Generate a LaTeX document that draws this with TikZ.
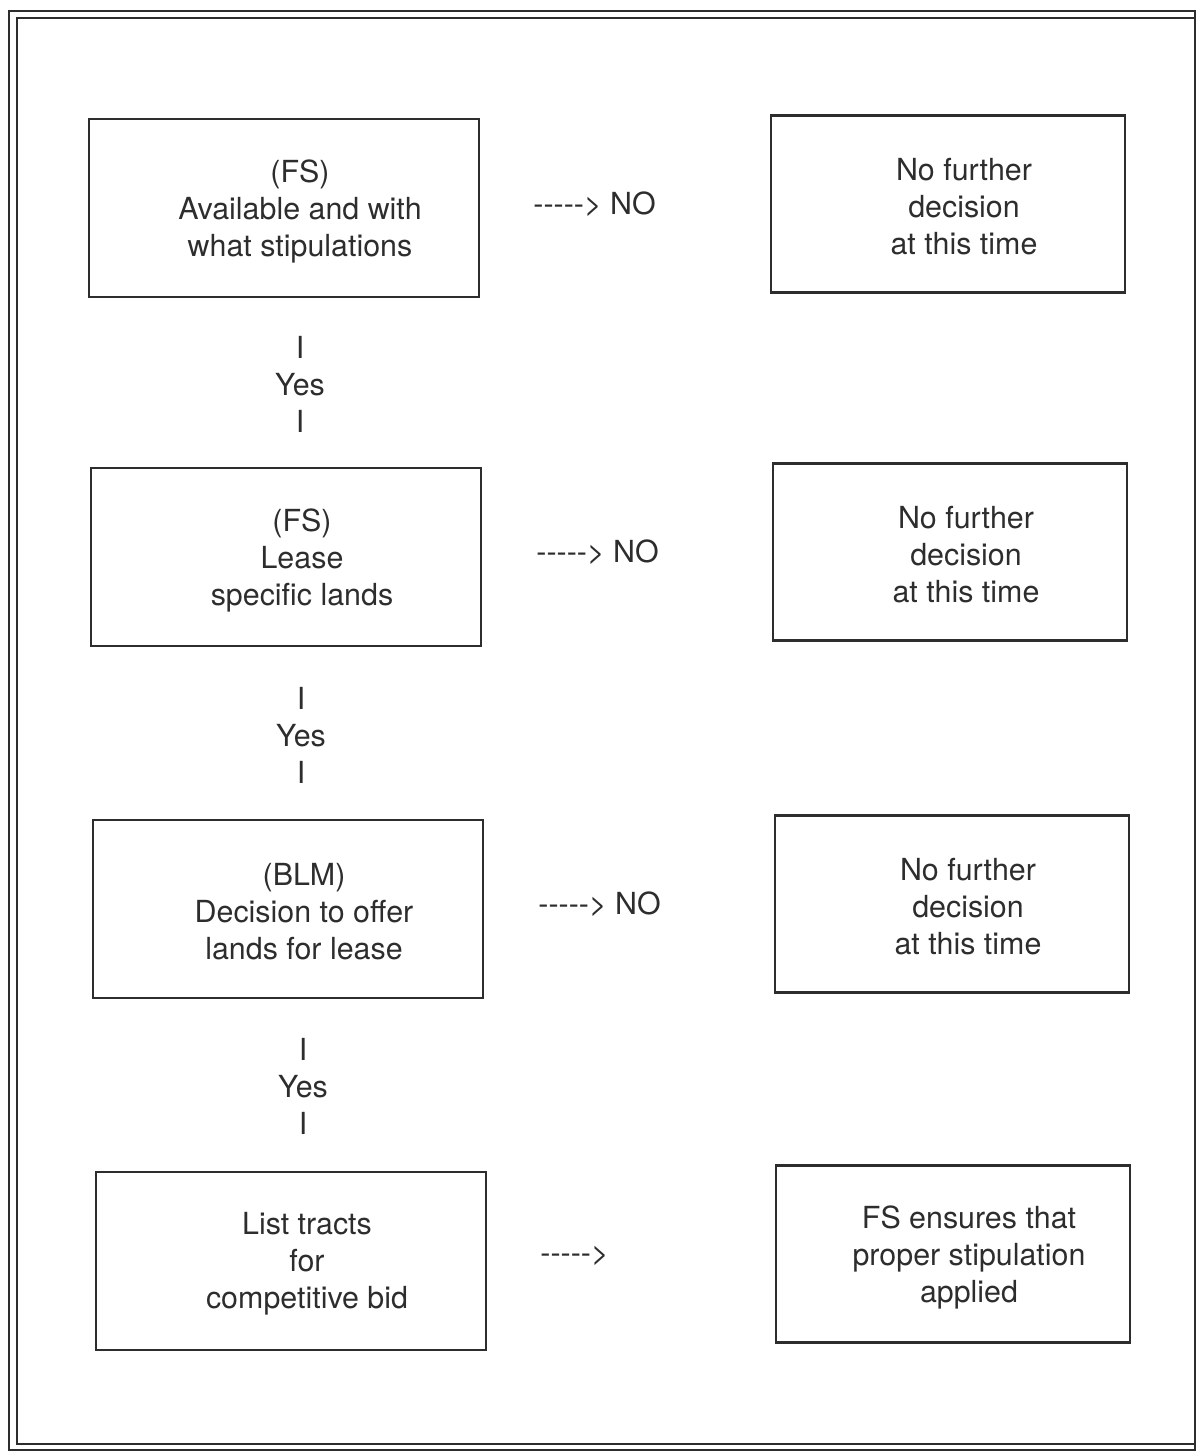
\documentclass[tikz,border=0pt]{standalone}
\usepackage{fontspec}
\setmainfont{TeX Gyre Heros}
\usepackage{xcolor}
\usepackage{tikz}
\usetikzlibrary{positioning,calc}
\definecolor{ScanGray}{RGB}{45,45,45}
\tikzset{
    stepbox/.style={rectangle, draw=ScanGray, line width=1.1pt, minimum width=195pt, minimum height=89pt, inner sep=0pt},
    endbox/.style={rectangle, draw=ScanGray, line width=1.1pt, minimum width=177pt, minimum height=88.5pt, inner sep=0pt},
    boxtext/.style={align=center, text=ScanGray, inner sep=0pt, font=\fontsize{15.2}{18.5}\selectfont},
    flowtext/.style={boxtext, anchor=west}
}

\begin{document}
\begin{tikzpicture}[x=0.5pt, y=-0.5pt,
                % Khung ngoai: vien doi
                frameline/.style={draw=ScanGray, line width=0.8pt}
            ]
                \useasboundingbox (0,0) rectangle (1198,1452);
                \draw[frameline] (9,11) rectangle (1195,1450);
                \draw[frameline] (1195,18) -- (17,18) -- (17,1444) -- (1195,1444);

                % Cot trai: cac buoc quyet dinh
                \node[stepbox] (avail) at (284,208) {};
                \node[stepbox] (lease) at (286,557) {};
                \node[stepbox] (offer) at (288,909) {};
                \node[stepbox] (tracts) at (291,1261) {};
                \node[boxtext] (availT) at ([xshift=8pt,yshift=-1.5pt]avail.center) {(FS)\\Available and with\\what stipulations};
                \node[boxtext] (leaseT) at ([xshift=8pt,yshift=-1.5pt]lease.center) {(FS)\\Lease\\specific lands};
                \node[boxtext] (offerT) at ([xshift=8pt,yshift=-1.5pt]offer.center) {(BLM)\\Decision to offer\\lands for lease};
                \node[boxtext] (tractsT) at ([xshift=8pt,yshift=-1.5pt]tracts.center) {List tracts\\for\\competitive bid};

                % Cot phai: ket qua
                \node[endbox] (nodec1) at (948,204) {};
                \node[endbox] (nodec2) at (950,552) {};
                \node[endbox] (nodec3) at (952,904) {};
                \node[endbox] (ensure) at (953,1254) {};
                \node[boxtext] (nodec1T) at ([xshift=8pt,yshift=-1.5pt]nodec1.center) {No further\\decision\\at this time};
                \node[boxtext] (nodec2T) at ([xshift=8pt,yshift=-1.5pt]nodec2.center) {No further\\decision\\at this time};
                \node[boxtext] (nodec3T) at ([xshift=8pt,yshift=-1.5pt]nodec3.center) {No further\\decision\\at this time};
                \node[boxtext] (ensureT) at ([xshift=8pt,yshift=-1.5pt]ensure.center) {FS ensures that\\proper stipulation\\applied};

                % Nhanh Yes giua cac buoc
                \node[boxtext] (yes1) at (300,384) {I\\Yes\\I};
                \node[boxtext] (yes2) at (301,735) {I\\Yes\\I};
                \node[boxtext] (yes3) at (303,1086) {I\\Yes\\I};

                % Nhanh NO sang phai
                \node[flowtext] (no1) at (533,204) {{-}{-}{-}{-}{-}> NO};
                \node[flowtext] (no2) at (536,552) {{-}{-}{-}{-}{-}> NO};
                \node[flowtext] (no3) at (538,904) {{-}{-}{-}{-}{-}> NO};
                \node[flowtext] (go4) at (540,1256) {{-}{-}{-}{-}{-}>};
            \end{tikzpicture}
\end{document}
